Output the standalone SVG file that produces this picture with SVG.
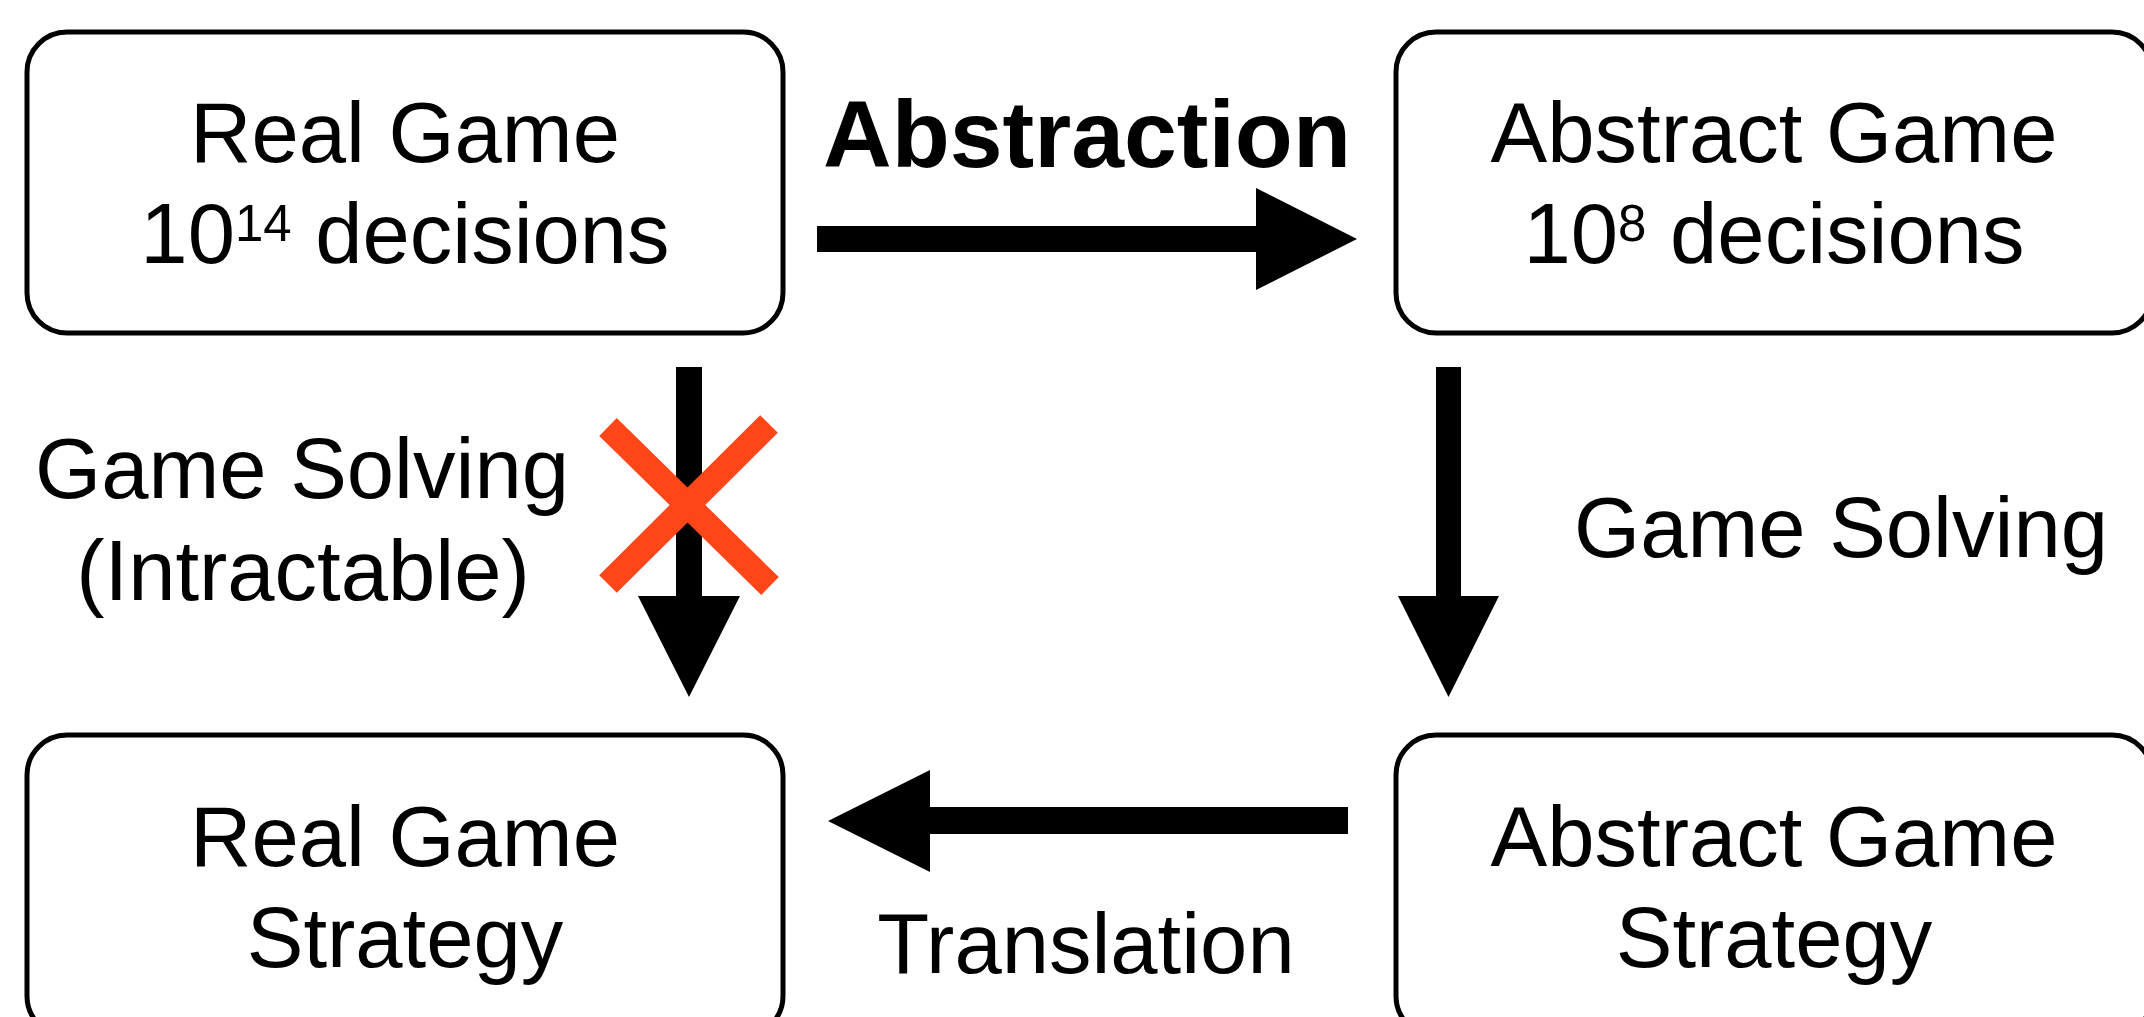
<svg xmlns="http://www.w3.org/2000/svg" width="2144" height="1017" viewBox="0 0 2144 1017">
  <style>
    .box { fill: #ffffff; stroke: #000000; stroke-width: 5; }
    .lbl { font-family: "Liberation Sans", Arial, Helvetica, sans-serif; font-size: 85px; fill: #000000; text-anchor: middle; }
    .bold { font-weight: bold; font-size: 95px; }
    .sup { font-size: 51px; }
    .arrow { fill: #000000; stroke: none; }
    .cross { stroke: #FF4619; stroke-width: 25; stroke-linecap: butt; fill: none; }
  </style>
  <rect width="2144" height="1017" fill="#ffffff"/>

  <!-- nodes -->
  <g id="real-game">
    <rect class="box" x="27" y="32" width="756" height="301" rx="40" ry="40"/>
    <text class="lbl" x="405" y="162">Real Game</text>
    <text class="lbl" x="405" y="263">10<tspan class="sup" dy="-22">14</tspan><tspan dy="22"> decisions</tspan></text>
  </g>

  <g id="abstract-game">
    <rect class="box" x="1396" y="32" width="756" height="301" rx="40" ry="40"/>
    <text class="lbl" x="1774" y="162">Abstract Game</text>
    <text class="lbl" x="1774" y="263">10<tspan class="sup" dy="-22">8</tspan><tspan dy="22"> decisions</tspan></text>
  </g>

  <g id="real-game-strategy">
    <rect class="box" x="27" y="735" width="756" height="301" rx="40" ry="40"/>
    <text class="lbl" x="405" y="866">Real Game</text>
    <text class="lbl" x="405" y="967">Strategy</text>
  </g>

  <g id="abstract-game-strategy">
    <rect class="box" x="1396" y="735" width="756" height="301" rx="40" ry="40"/>
    <text class="lbl" x="1774" y="866">Abstract Game</text>
    <text class="lbl" x="1774" y="967">Strategy</text>
  </g>

  <!-- connectors -->
  <g id="connectors">
    <!-- Abstraction: real game -> abstract game -->
    <polygon class="arrow" points="817,226 1256,226 1256,188 1357,239 1256,290 1256,252 817,252"/>
    <text class="lbl bold" x="1087" y="167">Abstraction</text>

    <!-- direct solving of the real game (crossed out) -->
    <polygon class="arrow" points="676,367 702,367 702,596 740,596 689,697 638,596 676,596"/>
    <text class="lbl" x="302" y="498">Game Solving</text>
    <text class="lbl" x="303" y="600">(Intractable)</text>
    <line class="cross" x1="608" y1="427" x2="770" y2="586"/>
    <line class="cross" x1="769" y1="424" x2="608" y2="584"/>

    <!-- solving the abstract game -->
    <polygon class="arrow" points="1436,367 1461,367 1461,596 1499,596 1448.5,697 1398,596 1436,596"/>
    <text class="lbl" x="1841" y="557">Game Solving</text>

    <!-- Translation: abstract strategy -> real strategy -->
    <polygon class="arrow" points="1348,807 930,807 930,770 828,821 930,872 930,834 1348,834"/>
    <text class="lbl" x="1086" y="973">Translation</text>
  </g>
</svg>
